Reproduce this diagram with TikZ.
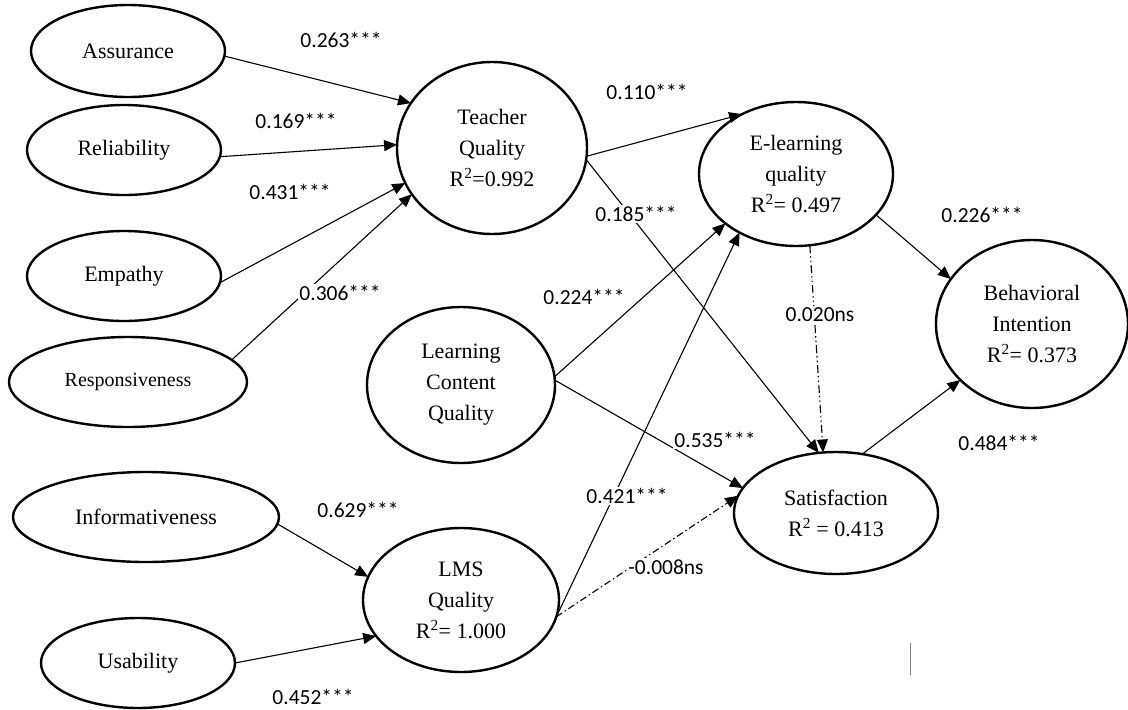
\documentclass[tikz,border=0pt]{standalone}
\usepackage{fontspec}
\setmainfont{Liberation Serif}
\newfontfamily\lblfont{Carlito}
\usetikzlibrary{shapes.geometric,arrows.meta}
\begin{document}
\begin{tikzpicture}[x=1pt,y=-1pt]
\tikzset{
  lv/.style={ellipse, draw, line width=2.4pt, inner sep=0pt, outer sep=0pt,
    align=center, font=\fontsize{22}{31}\selectfont},
  smalllv/.style={font=\fontsize{20}{28}\selectfont},
  arr/.style={line width=1.1pt, -{Triangle[length=13pt,width=11pt]}},
  dashdotline/.style={dash pattern=on 7pt off 3pt on 1.5pt off 3pt},
  dashdotdotline/.style={dash pattern=on 8pt off 3pt on 1.5pt off 3pt on 1.5pt off 3pt},
  coef/.style={font=\lblfont\fontsize{21.5}{24}\selectfont, fill=white, inner sep=1.5pt},
}
\useasboundingbox (0,0) rectangle (1128,710);
\fill[white] (0,0) rectangle (1128,710);

% latent variables
\node[lv, minimum width=194pt, minimum height=92pt] (as) at (128,51) {Assurance};
\node[lv, minimum width=194pt, minimum height=90pt] (re) at (124,150) {Reliability};
\node[lv, minimum width=194pt, minimum height=90pt] (em) at (124,276) {Empathy};
\node[lv, smalllv, minimum width=238pt, minimum height=90pt] (rs) at (128,382) {Responsiveness};
\node[lv, minimum width=190pt, minimum height=172pt] (tq) at (492,148) {Teacher\\Quality\\R\textsuperscript{2}=0.992};
\node[lv, minimum width=188pt, minimum height=156pt] (lcq) at (461,385) {Learning\\Content\\Quality};
\node[lv, minimum width=266pt, minimum height=90pt] (inf) at (146,517) {Informativeness};
\node[lv, minimum width=194pt, minimum height=90pt] (us) at (138,663) {Usability};
\node[lv, minimum width=196pt, minimum height=144pt] (lms) at (461,600) {LMS\\Quality\\R\textsuperscript{2}= 1.000};
\node[lv, minimum width=194pt, minimum height=144pt] (el) at (796,174) {E-learning\\quality\\R\textsuperscript{2}= 0.497};
\node[lv, minimum width=192pt, minimum height=168pt] (bi) at (1032,324) {Behavioral\\Intention\\R\textsuperscript{2}= 0.373};
\node[lv, minimum width=204pt, minimum height=122pt] (sa) at (836,513) {Satisfaction\\R\textsuperscript{2} = 0.413};

% paths
\draw[arr] (as.-3) -- (tq.151);
\draw[arr] (re.-4) -- (tq.178);
\draw[arr] (em.-4) -- (tq.202);
\draw[arr] (rs.12) -- (tq.210);
\draw[arr] (tq.-5) -- (el.132);
\draw[arr] (tq.-7) -- (sa.106);
\draw[arr] (lcq.5) -- (el.215);
\draw[arr] (lcq.3) -- (sa.165);
\draw[arr] (lms.-10) -- (el.226);
\draw[arr, dashdotline] (lms.-10) -- (sa.170);
\draw[arr, dashdotdotline] (el.-79) -- (sa.102);
\draw[arr] (el.-27) -- (bi.151);
\draw[arr] (sa.66) -- (bi.218);
\draw[arr] (inf.-3) -- (lms.166);
\draw[arr] (us.0) -- (lms.203);

% coefficients
\node[coef] (c1) at (341,40) {0.263***};
\node[coef] (c2) at (296,121) {0.169***};
\node[coef] (c3) at (290,192) {0.431***};
\node[coef] (c4) at (340,293) {0.306***};
\node[coef] (c5) at (647,92) {0.110***};
\node[coef] (c6) at (636,214) {0.185***};
\node[coef] (c7) at (584,297) {0.224***};
\node[coef] (c8) at (627,496) {0.421***};
\node[coef] (c9) at (666,567) {-0.008ns};
\node[coef] (c10) at (715,440) {0.535***};
\node[coef] (c11) at (820,315) {0.020ns};
\node[coef] (c12) at (982,215) {0.226***};
\node[coef] (c13) at (999,443) {0.484***};
\node[coef] (c14) at (358,510) {0.629***};
\node[coef] (c15) at (313,697) {0.452***};

% stray mark
\draw[gray, line width=0.6pt] (910,643) -- (910,675);
\end{tikzpicture}
\end{document}
